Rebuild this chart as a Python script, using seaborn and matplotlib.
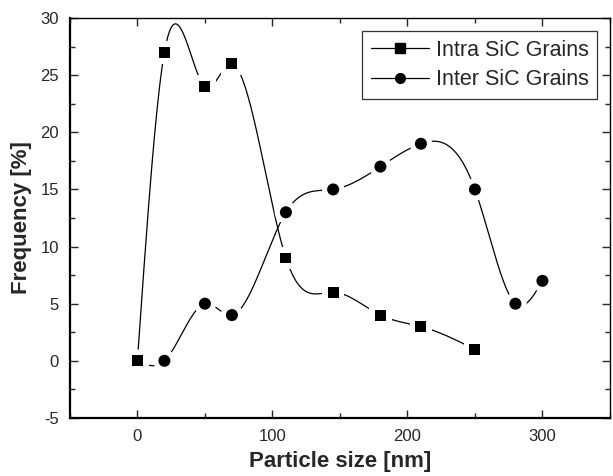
"""
Particle size distribution, intra / inter SiC grains
"""

import numpy as np
import pandas as pd
import seaborn as sns
import matplotlib.pyplot as plt
from matplotlib.lines import Line2D
from matplotlib.ticker import MultipleLocator

#-----------------------------------
#Data:
intra_size = [0, 20, 50, 70, 110, 145, 180, 210, 250]
intra_freq = [0, 27, 24, 26, 9, 6, 4, 3, 1]

inter_size = [0, 20, 50, 70, 110, 145, 180, 210, 250, 280, 300]
inter_freq = [0, 0, 5, 4, 13, 15, 17, 19, 15, 5, 7]

x_ticks = [0, 100, 200, 300]
y_ticks = [-5, 0, 5, 10, 15, 20, 25, 30]

#-----------------------------------
#Functions:
def natural_spline(x, y, n=400):
    # plain natural cubic spline, like the smooth line in Origin
    x = np.asarray(x, float)
    y = np.asarray(y, float)
    k = len(x)
    h = np.diff(x)
    A = np.zeros((k, k))
    b = np.zeros(k)
    A[0, 0] = 1
    A[-1, -1] = 1
    for i in range(1, k - 1):
        A[i, i - 1] = h[i - 1]
        A[i, i] = 2 * (h[i - 1] + h[i])
        A[i, i + 1] = h[i]
        b[i] = 6 * ((y[i + 1] - y[i]) / h[i] - (y[i] - y[i - 1]) / h[i - 1])
    m = np.linalg.solve(A, b)
    xs = np.linspace(x[0], x[-1], n)
    j = np.clip(np.searchsorted(x, xs) - 1, 0, k - 2)
    t0 = x[j + 1] - xs
    t1 = xs - x[j]
    hj = h[j]
    ys = (m[j] * t0**3 + m[j + 1] * t1**3) / (6 * hj) \
        + (y[j] / hj - m[j] * hj / 6) * t0 \
        + (y[j + 1] / hj - m[j + 1] * hj / 6) * t1
    return pd.DataFrame({'size': xs, 'freq': ys})

#-----------------------------------
#Plot:
sns.set_style("ticks")
plt.rcParams['font.family'] = ['Liberation Sans', 'DejaVu Sans']
plt.rcParams['axes.unicode_minus'] = False

fig = plt.figure(figsize=(6.13, 4.76), dpi=100)
ax = fig.add_axes([0.114, 0.122, 0.881, 0.840])

intra = pd.DataFrame({'size': intra_size, 'freq': intra_freq})
inter = pd.DataFrame({'size': inter_size, 'freq': inter_freq})

sns.lineplot(data=natural_spline(inter_size, inter_freq), x='size', y='freq',
             sort=False, color='black', lw=0.9, ax=ax)
sns.lineplot(data=natural_spline(intra_size, intra_freq), x='size', y='freq',
             sort=False, color='black', lw=0.9, ax=ax)

# white halo gives the gap between curve and marker
sns.scatterplot(data=inter, x='size', y='freq', marker='o', s=260,
                color='white', edgecolor='none', ax=ax, zorder=3)
sns.scatterplot(data=inter, x='size', y='freq', marker='o', s=75,
                color='black', edgecolor='none', ax=ax, zorder=4)
sns.scatterplot(data=intra, x='size', y='freq', marker='s', s=260,
                color='white', edgecolor='none', ax=ax, zorder=5)
sns.scatterplot(data=intra, x='size', y='freq', marker='s', s=62,
                color='black', edgecolor='none', ax=ax, zorder=6)

ax.set_xlim(-50, 350)
ax.set_ylim(-5, 30)
ax.set_xticks(x_ticks)
ax.set_yticks(y_ticks)
ax.xaxis.set_minor_locator(MultipleLocator(50))
ax.yaxis.set_minor_locator(MultipleLocator(2.5))
ax.tick_params(which='both', direction='in', top=True, right=True,
               labelsize=12, width=1, pad=8)
ax.tick_params(which='major', length=6)
ax.tick_params(which='minor', length=3.5)

for side in ax.spines:
    ax.spines[side].set_visible(True)
    ax.spines[side].set_color('black')
ax.spines['left'].set_linewidth(1.6)
ax.spines['bottom'].set_linewidth(1.6)
ax.spines['top'].set_linewidth(1.0)
ax.spines['right'].set_linewidth(1.0)

ax.set_xlabel("Particle size [nm]", fontsize=16, fontweight='bold', labelpad=5)
ax.set_ylabel("Frequency [%]", fontsize=16, fontweight='bold', labelpad=6)

handles = [
    Line2D([], [], color='black', lw=0.9, marker='s', markersize=7,
           label='Intra SiC Grains'),
    Line2D([], [], color='black', lw=0.9, marker='o', markersize=7,
           label='Inter SiC Grains'),
]
leg = ax.legend(handles=handles, loc='upper right', fontsize=15.5,
                frameon=True, fancybox=False, edgecolor='black',
                handlelength=2.7, handletextpad=0.3, borderpad=0.4,
                labelspacing=0.4, borderaxespad=0.6)
leg.get_frame().set_linewidth(0.9)

fig.savefig('out.png', dpi=100)
